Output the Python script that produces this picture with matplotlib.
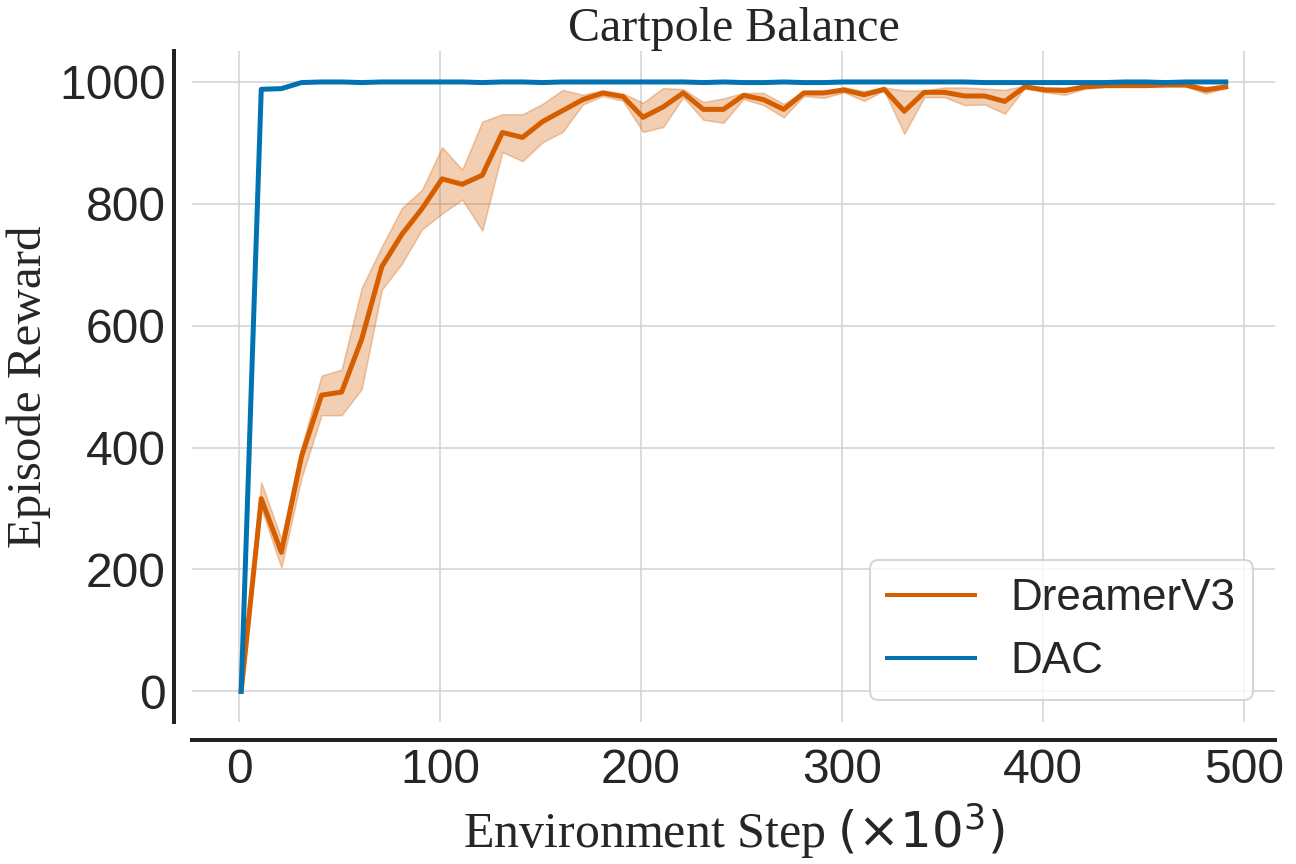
import numpy as np
import matplotlib
matplotlib.use("Agg")
import matplotlib.pyplot as plt

# environment steps (x 10^3)
steps = [1 + 10 * i for i in range(50)]

dreamer_mean = [0, 316, 228, 385, 486, 491, 578, 697, 750, 792,
                841, 832, 847, 917, 909, 935, 953, 971, 982, 976,
                942, 959, 982, 955, 955, 978, 971, 955, 982, 982,
                987, 979, 988, 952, 983, 983, 977, 977, 968, 992,
                987, 986, 992, 994, 994, 994, 995, 995, 987, 992]
dreamer_low = [0, 300, 203, 350, 453, 453, 496, 659, 702, 758,
               784, 807, 756, 885, 870, 901, 918, 963, 977, 969,
               918, 926, 975, 938, 933, 972, 962, 942, 977, 974,
               983, 969, 986, 915, 975, 975, 962, 963, 948, 990,
               983, 979, 989, 992, 992, 992, 993, 993, 981, 990]
dreamer_high = [0, 343, 250, 400, 518, 528, 662, 730, 793, 823,
                893, 856, 935, 947, 947, 964, 987, 979, 986, 981,
                966, 990, 988, 967, 973, 982, 982, 964, 985, 985,
                991, 985, 991, 986, 986, 991, 991, 989, 987, 994,
                991, 991, 994, 996, 996, 996, 997, 997, 992, 994]
dac_mean = [0, 988, 989, 999, 1000, 1000, 999, 1000, 1000, 1000,
            1000, 1000, 999, 1000, 1000, 999, 1000, 1000, 1000, 1000,
            1000, 1000, 1000, 999, 1000, 999, 999, 1000, 999, 999,
            1000, 1000, 1000, 1000, 1000, 1000, 1000, 999, 999, 999,
            999, 999, 999, 999, 1000, 1000, 999, 1000, 1000, 1000]

orange = '#D55E00'
blue = '#0173B2'
serif = 'Liberation Serif'

plt.rcParams['font.family'] = ['Liberation Sans', 'DejaVu Sans']
plt.rcParams['mathtext.fontset'] = 'dejavusans'

fig = plt.figure(figsize=(9, 6), dpi=144)
ax = fig.add_axes([0.1481, 0.1647, 0.8357, 0.7757])

ax.fill_between(steps, dreamer_low, dreamer_high, color=orange, alpha=0.3, linewidth=0.8)
ax.plot(steps, dreamer_mean, color=orange, lw=2.5, label='DreamerV3')
ax.plot(steps, dac_mean, color=blue, lw=2.5, label='DAC')

ax.set_xticks([0, 100, 200, 300, 400, 500])
ax.set_yticks([0, 200, 400, 600, 800, 1000])
ax.grid(True, color='#d4d4d4', lw=0.8)
ax.set_axisbelow(True)
ax.tick_params(length=0, pad=4, labelsize=24, colors='#262626')

for s in ['top', 'right']:
    ax.spines[s].set_visible(False)
for s in ['left', 'bottom']:
    ax.spines[s].set_position(('outward', 9))
    ax.spines[s].set_linewidth(2)
    ax.spines[s].set_color('#222222')

ax.set_title('Cartpole Balance', fontfamily=serif, fontsize=24, color='#262626', pad=3)
ax.set_xlabel(r'Environment Step $(\times 10^3)$', fontfamily=serif, fontsize=25, color='#262626')
ax.set_ylabel('Episode Reward', fontfamily=serif, fontsize=24.5, color='#262626')

leg = ax.legend(loc='lower right', prop={'size': 22},
                fancybox=True, edgecolor='#cccccc', framealpha=0.8)
for h in leg.get_lines():
    h.set_linewidth(2)
for t in leg.get_texts():
    t.set_color('#262626')

fig.savefig('out.png', dpi=144)
